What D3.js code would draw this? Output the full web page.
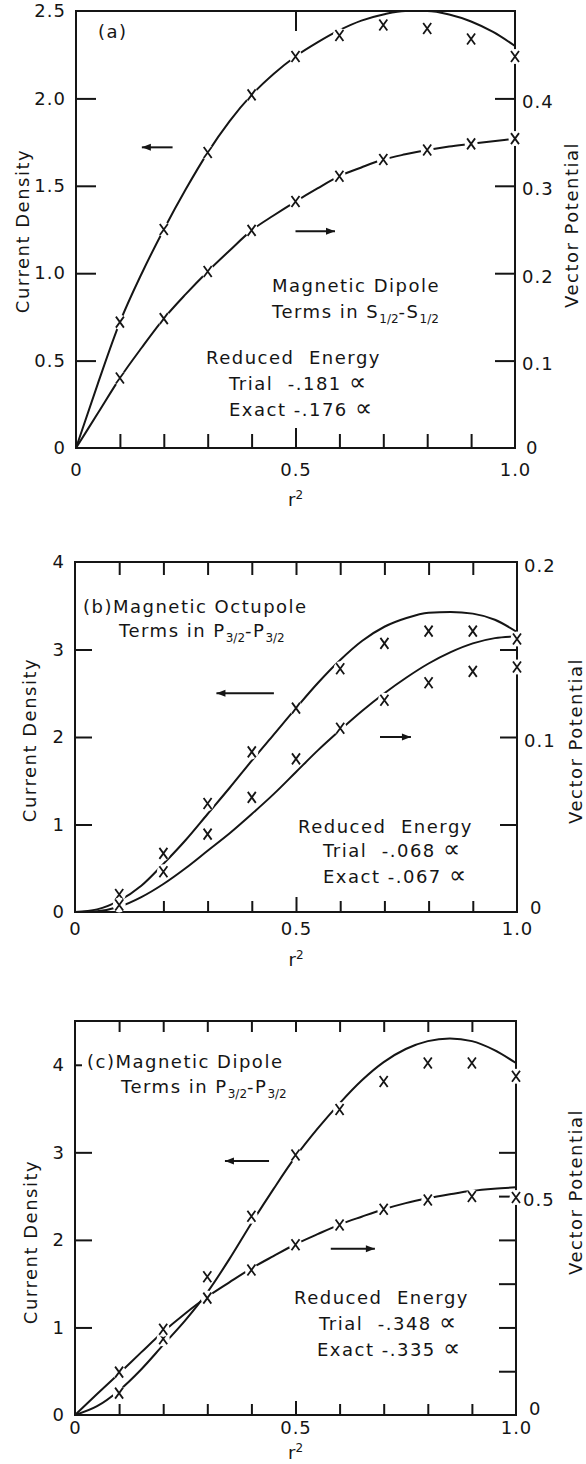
<!DOCTYPE html>
<html>
<head>
<meta charset="utf-8">
<script src="https://cdn.jsdelivr.net/npm/d3@7"></script>
<style>
body { margin: 0; background: #fff; }
text { font-family: "DejaVu Sans", sans-serif; fill: #151515; white-space: pre; }
</style>
</head>
<body>
<script>
///////////////////   Data   /////////////////

// r^2 of the trial points (the x marks) and of the points
var trialR2 = [0.1, 0.2, 0.3, 0.4, 0.5, 0.6, 0.7, 0.8, 0.9, 1.0];
var curveR2 = [0, 0.05, 0.1, 0.15, 0.2, 0.25, 0.3, 0.35, 0.4, 0.45, 0.5,
               0.55, 0.6, 0.65, 0.7, 0.75, 0.8, 0.85, 0.9, 0.95, 1.0];

// (a) magnetic dipole, S1/2-S1/2
var aCurrentExact   = [0, 0.37, 0.72, 1.0, 1.25, 1.48, 1.69, 1.87, 2.02, 2.14, 2.24,
                       2.32, 2.39, 2.445, 2.48, 2.5, 2.5, 2.48, 2.44, 2.38, 2.30];
var aCurrentTrial   = [0.72, 1.25, 1.69, 2.02, 2.24, 2.36, 2.42, 2.40, 2.34, 2.24];
var aPotentialExact = [0, 0.04, 0.08, 0.115, 0.148, 0.176, 0.202, 0.226, 0.249, 0.266, 0.282,
                       0.297, 0.311, 0.321, 0.330, 0.336, 0.341, 0.345, 0.348, 0.351, 0.354];
var aPotentialTrial = [0.080, 0.148, 0.202, 0.249, 0.282, 0.311, 0.330, 0.341, 0.348, 0.354];

// (b) magnetic octupole, P3/2-P3/2
var bCurrentExact   = [0, 0.03, 0.13, 0.3, 0.55, 0.82, 1.12, 1.42, 1.73, 2.03, 2.33,
                       2.62, 2.88, 3.1, 3.26, 3.36, 3.42, 3.43, 3.41, 3.34, 3.2];
var bCurrentTrial   = [0.2, 0.67, 1.24, 1.83, 2.33, 2.78, 3.07, 3.21, 3.21, 3.12];
var bPotentialExact = [0, 0.0005, 0.003, 0.0085, 0.016, 0.025, 0.035, 0.045, 0.056, 0.0675, 0.08,
                       0.0925, 0.104, 0.115, 0.125, 0.134, 0.142, 0.1485, 0.1535, 0.1565, 0.1575];
var bPotentialTrial = [0.004, 0.023, 0.0445, 0.0655, 0.0875, 0.105, 0.121, 0.131, 0.1375, 0.14];

// (c) magnetic dipole, P3/2-P3/2
var cCurrentExact   = [0, 0.1, 0.28, 0.52, 0.8, 1.08, 1.4, 1.78, 2.19, 2.58, 2.95,
                       3.27, 3.56, 3.82, 4.03, 4.18, 4.27, 4.30, 4.27, 4.17, 4.02];
var cCurrentTrial   = [0.25, 0.87, 1.58, 2.27, 2.97, 3.49, 3.81, 4.02, 4.02, 3.87];
var cPotentialExact = [0, 0.048, 0.095, 0.143, 0.19, 0.232, 0.27, 0.303, 0.335, 0.363, 0.39,
                       0.413, 0.435, 0.453, 0.47, 0.484, 0.495, 0.504, 0.512, 0.517, 0.52];
var cPotentialTrial = [0.098, 0.196, 0.267, 0.331, 0.389, 0.434, 0.470, 0.491, 0.499, 0.497];

// ticks and tick labels
var xTicks       = [0.1, 0.2, 0.3, 0.4, 0.5, 0.6, 0.7, 0.8, 0.9];
var xLabels      = [0, 0.5, 1.0];
var aLeftTicks   = [0.5, 1.0, 1.5, 2.0];
var aLeftLabels  = [0, 0.5, 1.0, 1.5, 2.0, 2.5];
var aRightTicks  = [0.1, 0.2, 0.3, 0.4];
var aRightLabels = [0, 0.1, 0.2, 0.3, 0.4];
var aTopTicks    = [0.5];
var bLeftTicks   = [1, 2, 3];
var bLeftLabels  = [0, 1, 2, 3, 4];
var bRightTicks  = [0.05, 0.1, 0.15];
var bRightLabels = [0, 0.1, 0.2];
var cLeftTicks   = [1, 2, 3, 4];
var cLeftLabels  = [0, 1, 2, 3, 4];
var cRightTicks  = [0.1, 0.2, 0.3, 0.4, 0.5, 0.6];
var cRightLabels = [0, 0.5];

////////////////    Layout    //////////////

var ink = "#151515",
    fontSize = 18,
    haloRx = 6.5, haloRy = 7.5,
    ALPHA = "\u221D";

var panels = [
  { box: {left: 76, right: 515, top: 11, bottom: 448},
    yMax: 2.5, yRightMax: 0.5,
    current: aCurrentExact, currentTrial: aCurrentTrial,
    potential: aPotentialExact, potentialTrial: aPotentialTrial,
    leftTicks: aLeftTicks, leftLabels: aLeftLabels, leftFmt: oneDecimal, leftLen: 20,
    rightTicks: aRightTicks, rightLabels: aRightLabels, rightFmt: oneDecimal, rightLen: 20,
    zeroDy: "0.3em", zeroDx: 4,
    topTicks: aTopTicks, topLen: 20, bottomLen: 14, midLen: 20, xPad: 15,
    arrowLeft: {x1: 0.15, x2: 0.22, y: 1.72}, arrowRight: {x1: 0.5, x2: 0.59, y: 1.24},
    lines: [
      {x: 98,  y: 38,  parts: [["(a)"]]},
      {x: 272, y: 292, parts: [["Magnetic Dipole"]]},
      {x: 272, y: 318, parts: [["Terms in S"], ["1/2", 1], ["-S"], ["1/2", 1]]},
      {x: 206, y: 364, parts: [["Reduced  Energy"]]},
      {x: 229, y: 390, parts: [["Trial  -.181 "], [ALPHA, 2]]},
      {x: 229, y: 416, parts: [["Exact -.176 "], [ALPHA, 2]]}
    ],
    cdX: 23, cdY: 231, vpX: 572, vpY: 225, r2: 506 },
  { box: {left: 75, right: 517, top: 562, bottom: 912},
    yMax: 4, yRightMax: 0.2,
    current: bCurrentExact, currentTrial: bCurrentTrial,
    potential: bPotentialExact, potentialTrial: bPotentialTrial,
    leftTicks: bLeftTicks, leftLabels: bLeftLabels, leftFmt: integer, leftLen: 17,
    rightTicks: bRightTicks, rightLabels: bRightLabels, rightFmt: oneDecimal, rightLen: 17,
    zeroDy: "0.1em", zeroDx: 6,
    topTicks: xTicks, topLen: 13, bottomLen: 11, midLen: 15, xPad: 10,
    arrowLeft: {x1: 0.32, x2: 0.45, y: 2.5}, arrowRight: {x1: 0.69, x2: 0.76, y: 2.0},
    lines: [
      {x: 83,  y: 613, parts: [["(b)Magnetic Octupole"]]},
      {x: 119, y: 637, parts: [["Terms in P"], ["3/2", 1], ["-P"], ["3/2", 1]]},
      {x: 298, y: 833, parts: [["Reduced  Energy"]]},
      {x: 323, y: 857, parts: [["Trial  -.068 "], [ALPHA, 2]]},
      {x: 323, y: 883, parts: [["Exact -.067 "], [ALPHA, 2]]}
    ],
    cdX: 30, cdY: 740, vpX: 576, vpY: 741, r2: 966 },
  { box: {left: 75, right: 516, top: 1021, bottom: 1415},
    yMax: 4.5, yRightMax: 0.9,
    current: cCurrentExact, currentTrial: cCurrentTrial,
    potential: cPotentialExact, potentialTrial: cPotentialTrial,
    leftTicks: cLeftTicks, leftLabels: cLeftLabels, leftFmt: integer, leftLen: 17,
    rightTicks: cRightTicks, rightLabels: cRightLabels, rightFmt: oneDecimal, rightLen: 17,
    zeroDy: "-0.05em", zeroDx: 6,
    topTicks: xTicks, topLen: 11, bottomLen: 11, midLen: 14, xPad: 6,
    arrowLeft: {x1: 0.34, x2: 0.44, y: 2.9}, arrowRight: {x1: 0.58, x2: 0.68, y: 1.9},
    lines: [
      {x: 87,  y: 1068, parts: [["(c)Magnetic Dipole"]]},
      {x: 121, y: 1093, parts: [["Terms in P"], ["3/2", 1], ["-P"], ["3/2", 1]]},
      {x: 294, y: 1304, parts: [["Reduced  Energy"]]},
      {x: 319, y: 1330, parts: [["Trial  -.348 "], [ALPHA, 2]]},
      {x: 317, y: 1356, parts: [["Exact -.335 "], [ALPHA, 2]]}
    ],
    cdX: 31, cdY: 1242, vpX: 576, vpY: 1192, r2: 1459 }
];
// the short tick beside "(c)"
panels[2].shortLeft = 4;

////////////////    Helpers    //////////////

function oneDecimal(d) { return d === 0 ? "0" : d.toFixed(1); }
function integer(d) { return String(d); }
function has(list, d) { return list.some(function(v) { return Math.abs(v - d) < 1e-9; }); }
function union(a, b) { return a.concat(b.filter(function(d) { return !has(a, d); })); }

// inward ticks, with labels only where asked for
function styleAxis(sel, ticks) {
  sel.select(".domain").remove();
  sel.attr("font-family", null).attr("font-size", null);
  sel.selectAll(".tick line")
      .attr("stroke", ink).attr("stroke-width", 2)
      .style("display", function(d) { return has(ticks, d) ? null : "none"; });
  sel.selectAll(".tick text")
      .style("font-size", fontSize + "px")
      .style("letter-spacing", "1px")
      .style("fill", ink);
}

////////////////    Main rendering    //////////////

var svg = d3.select("body").append("svg")
    .attr("width", 586)
    .attr("height", 1464);

panels.forEach(function(p) {
  var b = p.box;
  var g = svg.append("g");
  var x  = d3.scaleLinear().domain([0, 1]).range([b.left, b.right]);
  var yL = d3.scaleLinear().domain([0, p.yMax]).range([b.bottom, b.top]);
  var yR = d3.scaleLinear().domain([0, p.yRightMax]).range([b.bottom, b.top]);

  // bottom axis
  var bottom = g.append("g")
      .attr("transform", "translate(0," + b.bottom + ")")
      .call(d3.axisBottom(x).tickValues(union(xTicks, xLabels)).tickSize(-p.bottomLen).tickPadding(p.xPad)
            .tickFormat(function(d) { return has(xLabels, d) ? d.toFixed(d === 0 ? 0 : 1) : ""; }));
  styleAxis(bottom, xTicks);
  bottom.selectAll(".tick line").attr("y2", function(d) { return d === 0.5 ? -p.midLen : -p.bottomLen; });

  // top axis
  var top = g.append("g")
      .attr("transform", "translate(0," + b.top + ")")
      .call(d3.axisTop(x).tickValues(p.topTicks).tickSize(-p.topLen).tickFormat(""));
  styleAxis(top, p.topTicks);

  // left axis
  var left = g.append("g")
      .attr("transform", "translate(" + b.left + ",0)")
      .call(d3.axisLeft(yL).tickValues(union(p.leftTicks, p.leftLabels)).tickSize(-p.leftLen).tickPadding(10)
            .tickFormat(function(d) { return has(p.leftLabels, d) ? p.leftFmt(d) : ""; }));
  styleAxis(left, p.leftTicks);
  if (p.shortLeft !== undefined)
    left.selectAll(".tick line").filter(function(d) { return d === p.shortLeft; }).attr("x2", 7);

  // right axis
  var right = g.append("g")
      .attr("transform", "translate(" + b.right + ",0)")
      .call(d3.axisRight(yR).tickValues(union(p.rightTicks, p.rightLabels)).tickSize(-p.rightLen).tickPadding(7)
            .tickFormat(function(d) { return has(p.rightLabels, d) ? p.rightFmt(d) : ""; }));
  styleAxis(right, p.rightTicks);
  right.selectAll(".tick text").attr("dy", "0.5em");
  // the bottom "0" sits a little raised, clear of the "1.0" under it
  right.selectAll(".tick text").filter(function(d) { return d === 0; })
      .attr("dy", p.zeroDy).attr("dx", p.zeroDx);

  // frame
  g.append("rect")
      .attr("x", b.left).attr("y", b.top)
      .attr("width", b.right - b.left).attr("height", b.bottom - b.top)
      .attr("fill", "none").attr("stroke", ink).attr("stroke-width", 2);

  // exact solutions
  var lineL = d3.line().x(function(d, i) { return x(curveR2[i]); }).y(function(d) { return yL(d); }).curve(d3.curveMonotoneX);
  var lineR = d3.line().x(function(d, i) { return x(curveR2[i]); }).y(function(d) { return yR(d); }).curve(d3.curveMonotoneX);
  g.append("path").attr("d", lineL(p.current))
      .attr("fill", "none").attr("stroke", ink).attr("stroke-width", 2);
  g.append("path").attr("d", lineR(p.potential))
      .attr("fill", "none").attr("stroke", ink).attr("stroke-width", 2);

  // trial points: an x with a white gap cut into whatever is underneath
  [[p.currentTrial, yL], [p.potentialTrial, yR]].forEach(function(s) {
    var m = g.selectAll(null).data(s[0]).enter().append("g")
        .attr("transform", function(d, i) { return "translate(" + x(trialR2[i]) + "," + s[1](d) + ")"; });
    m.append("ellipse").attr("rx", haloRx).attr("ry", haloRy).attr("fill", "#fff");
    m.append("path").attr("d", "M-4,-5.5L4,5.5M4,-5.5L-4,5.5")
        .attr("stroke", ink).attr("stroke-width", 1.8).attr("fill", "none");
  });

  // arrows telling which axis each curve belongs to
  [[p.arrowLeft, -1], [p.arrowRight, 1]].forEach(function(a) {
    var y = yL(a[0].y), x1 = x(a[0].x1), x2 = x(a[0].x2);
    var tip = a[1] < 0 ? x1 : x2, dir = a[1];
    g.append("line").attr("x1", x1).attr("x2", x2).attr("y1", y).attr("y2", y)
        .attr("stroke", ink).attr("stroke-width", 2);
    g.append("path")
        .attr("d", "M" + tip + "," + y + "L" + (tip - dir * 9) + "," + (y - 3.5) + "L" + (tip - dir * 9) + "," + (y + 3.5) + "Z")
        .attr("fill", ink);
  });

  // annotation text (1 = subscript, 2 = the large proportional sign)
  p.lines.forEach(function(l) {
    var t = g.append("text").attr("x", l.x).attr("y", l.y)
        .style("font-size", fontSize + "px").style("letter-spacing", "1.5px");
    var shifted = false;
    l.parts.forEach(function(part) {
      var s = t.append("tspan").text(part[0]);
      if (part[1] === 1) { s.style("font-size", "12px").style("letter-spacing", "0px").attr("dy", 5); shifted = true; }
      else if (part[1] === 2) { s.style("font-size", "24px").style("letter-spacing", "0px"); }
      else if (shifted) { s.attr("dy", -5); shifted = false; }
    });
  });

  // axis titles
  g.append("text")
      .attr("transform", "translate(" + p.cdX + "," + p.cdY + ") rotate(-90)")
      .attr("text-anchor", "middle").attr("dy", "0.35em")
      .style("font-size", fontSize + "px").style("letter-spacing", "1.5px")
      .text("Current Density");
  g.append("text")
      .attr("transform", "translate(" + p.vpX + "," + p.vpY + ") rotate(-90)")
      .attr("text-anchor", "middle").attr("dy", "0.35em")
      .style("font-size", fontSize + "px").style("letter-spacing", "1.5px")
      .text("Vector Potential");
  var r2 = g.append("text")
      .attr("x", x(0.5)).attr("y", p.r2).attr("text-anchor", "middle")
      .style("font-size", fontSize + "px");
  r2.append("tspan").text("r");
  r2.append("tspan").text("2").attr("dy", -7).style("font-size", "12px");
});
</script>
</body>
</html>
